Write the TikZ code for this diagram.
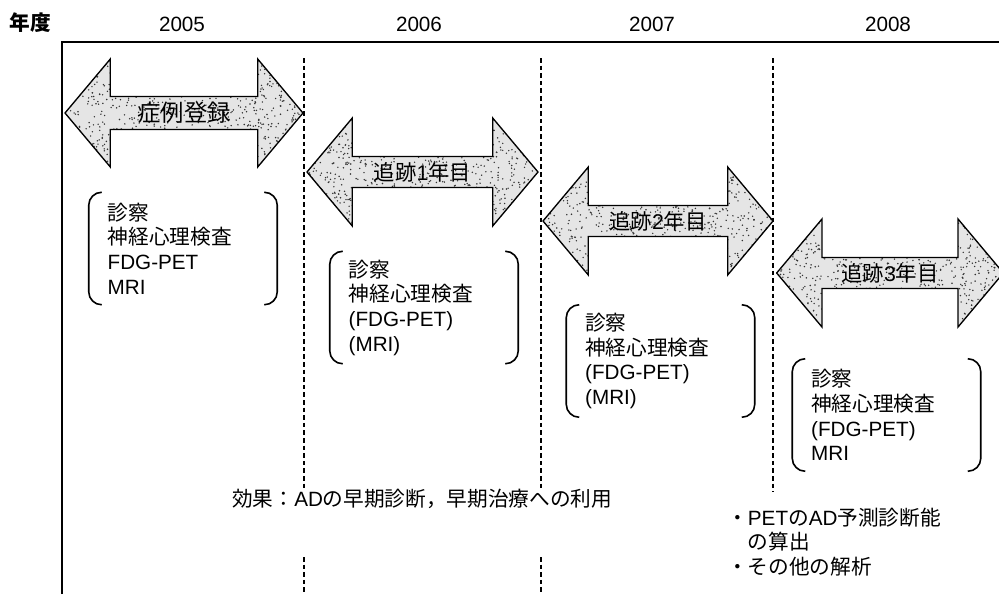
\documentclass[tikz,border=0pt]{standalone}
\usepackage{fontspec}
\setmainfont{Liberation Sans}
\newfontfamily\cjk{Noto Sans CJK JP}
\usetikzlibrary{shapes.arrows,calc}
\tikzset{
  every node/.style={font=\fontsize{15.5pt}{18.5pt}\selectfont, inner sep=0pt},
  frameline/.style={line width=1.5pt},
  sepline/.style={line width=1.2pt, dash pattern=on 3.5pt off 2.2pt},
  speckle/.style={path picture={%
      \foreach \i in {1,...,900}{%
        \fill[black!80] ($(path picture bounding box.center)+({(rnd-0.5)*245},{(rnd-0.5)*112})$) circle[radius=0.6pt];}}},
  darr/.style={double arrow, draw=black, line width=1pt, fill=black!10,
    double arrow tip angle=100, double arrow head extend=19.5pt,
    minimum width=81pt, inner sep=0pt, speckle,
    font=\fontsize{16pt}{18.5pt}\selectfont},
  lst/.style={minimum width=141pt, minimum height=84pt, text width=113pt,
    inner xsep=14pt, align=left},
  brk/.style={line width=1.2pt},
}
\newcommand\mybrackets[1]{%
  \draw[brk] ($(#1.north west)+(13,0)$) to[out=180,in=90] ($(#1.north west)+(0,13)$)
    -- ($(#1.south west)+(0,-13)$) to[out=-90,in=180] ($(#1.south west)+(13,0)$);
  \draw[brk] ($(#1.north east)+(-13,0)$) to[out=0,in=90] ($(#1.north east)+(0,13)$)
    -- ($(#1.south east)+(0,-13)$) to[out=-90,in=0] ($(#1.south east)+(-13,0)$);
}
\begin{document}
\begin{tikzpicture}[x=0.75pt, y=-0.75pt]
\pgfmathsetseed{4711}
\fill[white] (0,0) rectangle (999,594);
\useasboundingbox (0,0) rectangle (999,594);

% header
\node (hd) at (30,23) {\cjk\bfseries 年度};
\node (y5) at (182,24) {2005};
\node (y6) at (419,24) {2006};
\node (y7) at (652,24) {2007};
\node (y8) at (888,24) {2008};

% frame
\draw[frameline] (62,594) -- (62,42) -- (999,42);

% year separators
\draw[sepline] (304,58) -- (304,488);
\draw[sepline] (304,557) -- (304,594);
\draw[sepline] (541,58) -- (541,488);
\draw[sepline] (541,557) -- (541,594);
\draw[sepline] (773,58) -- (773,492);

% arrows
\node[darr, minimum height=178.5pt, font=\fontsize{17.5pt}{18.5pt}\selectfont] (a1) at (184,113) {\cjk 症例登録};
\node[darr, minimum height=173.25pt] (a2) at (422.5,172) {{\cjk 追跡}1{\cjk 年目}};
\node[darr, minimum height=172.5pt] (a3) at (658,221) {{\cjk 追跡}2{\cjk 年目}};
\node[darr, minimum height=170pt] (a4) at (890,273) {{\cjk 追跡}3{\cjk 年目}};

% examination lists
\node[lst] (b1) at (183,248.5) {{\cjk 診察}\\{\cjk 神経心理検査}\\FDG-PET\\MRI};
\node[lst] (b2) at (424,307.5) {{\cjk 診察}\\{\cjk 神経心理検査}\\(FDG-PET)\\(MRI)};
\node[lst] (b3) at (660.5,361) {{\cjk 診察}\\{\cjk 神経心理検査}\\(FDG-PET)\\(MRI)};
\node[lst] (b4) at (886.5,415) {{\cjk 診察}\\{\cjk 神経心理検査}\\(FDG-PET)\\MRI};
\mybrackets{b1}
\mybrackets{b2}
\mybrackets{b3}
\mybrackets{b4}

% bottom texts
\node[anchor=west] (eff) at (232,499) {{\cjk 効果：}AD{\cjk の早期診断，早期治療への利用}};
\node[anchor=west, align=left] (res) at (727,542) {{\cjk ・}PET{\cjk の}AD{\cjk 予測診断能}\\\phantom{\cjk ・}{\cjk の算出}\\{\cjk ・その他の解析}};
\end{tikzpicture}
\end{document}
